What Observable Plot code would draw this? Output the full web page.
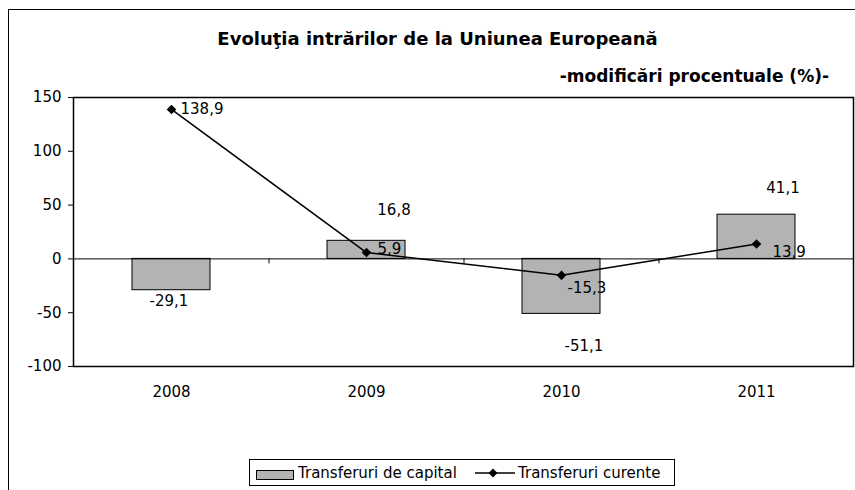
<!DOCTYPE html>
<html><head><meta charset="utf-8">
<script src="https://cdn.jsdelivr.net/npm/d3@7"></script>
<script src="https://cdn.jsdelivr.net/npm/@observablehq/plot@0.6"></script>
<style>
body{margin:0;background:#fff;}
#wrap{position:relative;width:855px;height:490px;overflow:hidden;font-family:"DejaVu Sans",sans-serif;color:#000;}
#border{position:absolute;left:8px;top:9px;width:900px;height:600px;border:1.5px solid #000;box-sizing:border-box;}
#title{position:absolute;left:0;width:875px;top:29px;text-align:center;font-weight:bold;font-size:18px;line-height:20px;}
#subtitle{position:absolute;right:26px;top:66px;font-weight:bold;font-size:17px;line-height:20px;white-space:nowrap;}
#chart{position:absolute;left:0;top:0;}
#legend{position:absolute;left:249px;top:459px;width:426px;height:27px;border:1px solid #000;box-sizing:border-box;font-size:15px;}
#legend .sw{position:absolute;left:6px;top:10px;width:38px;height:10px;background:#b3b3b3;border:1.5px solid #000;box-sizing:border-box;}
#legend .t1{position:absolute;left:48px;top:4px;line-height:18px;white-space:nowrap;}
#legend .ln{position:absolute;left:225px;top:7px;}
#legend .t2{position:absolute;left:268px;top:4px;line-height:18px;white-space:nowrap;}
</style>
</head><body>
<div id="wrap">
  <div id="border"></div>
  <div id="title">Evoluţia intrărilor de la Uniunea Europeană</div>
  <div id="subtitle">-modificări procentuale (%)-</div>
  <div id="chart"></div>
  <div id="legend"></div>
</div>
<script>
// ---- data ----
const years = ["2008", "2009", "2010", "2011"];
const capital = [-29.1, 16.8, -51.1, 41.1];   // Transferuri de capital
const curente = [138.9, 5.9, -15.3, 13.9];    // Transferuri curente
const yTicks = [-100, -50, 0, 50, 100, 150];
const seriesNames = ["Transferuri de capital", "Transferuri curente"];

// label nudges (pixels) as in the original, [dx, dy]
const barLabelNudge = [[-2.5, 11], [27.5, -30.6], [22.5, 32.4], [26.5, -26.5]];
const lineLabelNudge = [[9, 0], [11, -3], [6, 13], [16, 8]];

const rows = years.map((year, i) => ({year, capital: capital[i], curente: curente[i]}));
const fmt = v => v.toFixed(1).replace(".", ",");

const W = 855, H = 420, mL = 73, mR = 2, mT = 97, mB = 54;
const step = (W - mL - mR) / years.length;

const diamond = {
  draw(ctx, size) {
    const h = Math.sqrt(size / Math.PI);
    ctx.moveTo(0, -h); ctx.lineTo(h, 0); ctx.lineTo(0, h); ctx.lineTo(-h, 0); ctx.closePath();
  }
};

const marks = [
  Plot.barY(rows, {x: "year", y: "capital", fill: "#b3b3b3", stroke: "#000", strokeWidth: 1}),
  Plot.ruleY([0], {stroke: "#000", strokeWidth: 1}),
  Plot.ruleX(years.slice(1), {x: d => d, y1: 0, y2: 0, insetBottom: -5, dx: -step / 2, stroke: "#000", strokeWidth: 1}),
  Plot.lineY(rows, {x: "year", y: "curente", stroke: "#000", strokeWidth: 1.5}),
  Plot.dot(rows, {x: "year", y: "curente", symbol: diamond, r: 4.8, fill: "#000", stroke: "none"}),
  Plot.frame({stroke: "#000", strokeWidth: 1.5})
];
rows.forEach((d, i) => {
  marks.push(Plot.text([d], {x: "year", y: "capital", text: r => fmt(r.capital),
    dx: barLabelNudge[i][0], dy: barLabelNudge[i][1], textAnchor: "middle", lineAnchor: "middle", fill: "#000"}));
  marks.push(Plot.text([d], {x: "year", y: "curente", text: r => fmt(r.curente),
    dx: lineLabelNudge[i][0], dy: lineLabelNudge[i][1], textAnchor: "start", lineAnchor: "middle", fill: "#000"}));
});

const chart = Plot.plot({
  width: W, height: H,
  marginLeft: mL, marginRight: mR, marginTop: mT, marginBottom: mB,
  style: {fontFamily: "DejaVu Sans", fontSize: "15px", color: "#000", background: "transparent", overflow: "visible"},
  x: {domain: years, paddingInner: 0.6, paddingOuter: 0.3, label: null, tickSize: 0, tickPadding: 20},
  y: {domain: [-100, 150], ticks: yTicks, tickSize: 5, tickPadding: 7, tickFormat: d => String(d), label: null},
  marks
});
document.getElementById("chart").appendChild(chart);

// legend
const lg = document.getElementById("legend");
lg.innerHTML = `<div class="sw"></div><div class="t1">${seriesNames[0]}</div>
<svg class="ln" width="42" height="12"><line x1="0" y1="6" x2="40" y2="6" stroke="#000" stroke-width="1.5"/>
<path d="M18,1.5L22.5,6L18,10.5L13.5,6Z" fill="#000"/></svg><div class="t2">${seriesNames[1]}</div>`;
</script>
</body></html>
